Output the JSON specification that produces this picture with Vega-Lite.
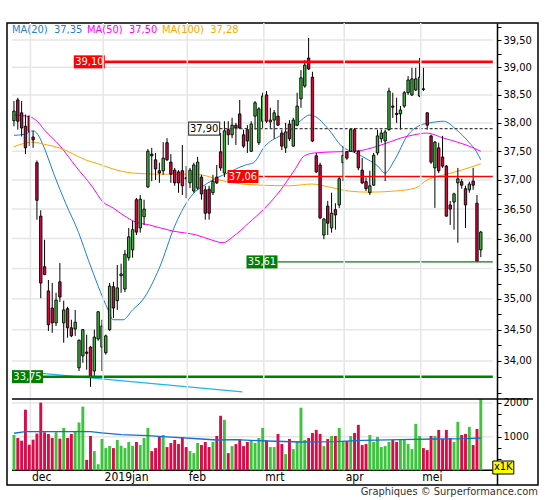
{
  "$schema": "https://vega.github.io/schema/vega-lite/v6.json",
  "background": "white",
  "padding": {"left": 7, "top": 20, "right": 7, "bottom": 4},
  "title": {"text": "Graphiques © Surperformance.com", "orient": "bottom", "anchor": "end", "fontSize": 11, "fontWeight": "normal", "color": "#333333", "offset": 1},
  "config": {
    "font": "DejaVu Sans Condensed, DejaVu Sans, sans-serif",
    "view": {"stroke": "#000000", "strokeWidth": 1.5},
    "axis": {"labelFontSize": 11, "labelColor": "#000000", "tickColor": "#000000", "domainColor": "#000000"},
    "axisX": {"disable": true}
  },
  "datasets": {
    "candles": [
      {"i":0,"o":38.04,"h":38.39,"l":37.94,"c":38.21,"v":1050},
      {"i":1,"o":38.41,"h":38.45,"l":37.88,"c":38.03,"v":960},
      {"i":2,"o":38.18,"h":38.39,"l":37.76,"c":37.91,"v":880},
      {"i":3,"o":37.94,"h":38.15,"l":37.45,"c":37.56,"v":1800},
      {"i":4,"o":38.12,"h":38.13,"l":37.59,"c":37.85,"v":760},
      {"i":5,"o":37.75,"h":37.86,"l":37.56,"c":37.70,"v":910},
      {"i":6,"o":37.30,"h":37.34,"l":36.32,"c":36.65,"v":1090},
      {"i":7,"o":36.38,"h":36.48,"l":35.01,"c":35.26,"v":2010},
      {"i":8,"o":35.53,"h":35.98,"l":35.39,"c":35.40,"v":1130},
      {"i":9,"o":35.13,"h":35.31,"l":34.48,"c":34.58,"v":1080},
      {"i":10,"o":34.85,"h":35.26,"l":34.45,"c":34.61,"v":960},
      {"i":11,"o":34.61,"h":35.10,"l":34.56,"c":34.98,"v":1130},
      {"i":12,"o":35.28,"h":35.59,"l":34.95,"c":35.03,"v":940},
      {"i":13,"o":34.61,"h":34.97,"l":34.29,"c":34.82,"v":1260},
      {"i":14,"o":34.84,"h":34.87,"l":34.37,"c":34.53,"v":960},
      {"i":15,"o":34.53,"h":34.66,"l":34.38,"c":34.40,"v":1080},
      {"i":16,"o":34.51,"h":34.82,"l":34.40,"c":34.62,"v":1170},
      {"i":17,"o":33.89,"h":34.34,"l":33.84,"c":34.33,"v":1420},
      {"i":18,"o":34.08,"h":34.51,"l":33.97,"c":34.50,"v":1890},
      {"i":19,"o":34.14,"h":34.42,"l":33.86,"c":34.12,"v":310},
      {"i":20,"o":34.22,"h":34.24,"l":33.59,"c":33.76,"v":1020},
      {"i":21,"o":33.84,"h":34.50,"l":33.73,"c":34.38,"v":570},
      {"i":22,"o":34.35,"h":34.80,"l":34.32,"c":34.79,"v":180},
      {"i":23,"o":34.22,"h":34.66,"l":33.84,"c":34.56,"v":930},
      {"i":24,"o":34.13,"h":34.42,"l":34.10,"c":34.40,"v":660},
      {"i":25,"o":34.50,"h":35.26,"l":34.48,"c":35.21,"v":720},
      {"i":26,"o":35.20,"h":35.28,"l":34.69,"c":34.85,"v":660},
      {"i":27,"o":34.97,"h":35.56,"l":34.82,"c":35.18,"v":900},
      {"i":28,"o":35.38,"h":35.58,"l":35.10,"c":35.41,"v":730},
      {"i":29,"o":35.16,"h":35.81,"l":35.11,"c":35.74,"v":660},
      {"i":30,"o":35.68,"h":36.18,"l":35.63,"c":36.03,"v":840},
      {"i":31,"o":35.81,"h":36.30,"l":35.68,"c":36.15,"v":730},
      {"i":32,"o":36.66,"h":36.69,"l":36.06,"c":36.11,"v":840},
      {"i":33,"o":36.18,"h":36.74,"l":36.10,"c":36.67,"v":750},
      {"i":34,"o":36.37,"h":36.66,"l":36.23,"c":36.50,"v":960},
      {"i":35,"o":36.88,"h":37.54,"l":36.86,"c":37.50,"v":1260},
      {"i":36,"o":37.45,"h":37.56,"l":36.98,"c":37.42,"v":570},
      {"i":37,"o":37.35,"h":37.47,"l":37.00,"c":37.19,"v":660},
      {"i":38,"o":37.16,"h":37.30,"l":36.95,"c":37.12,"v":990},
      {"i":39,"o":37.16,"h":37.66,"l":37.09,"c":37.38,"v":1050},
      {"i":40,"o":37.65,"h":37.73,"l":37.33,"c":37.35,"v":690},
      {"i":41,"o":37.31,"h":37.45,"l":36.95,"c":37.10,"v":810},
      {"i":42,"o":37.17,"h":37.21,"l":36.90,"c":36.95,"v":900},
      {"i":43,"o":37.14,"h":37.17,"l":36.78,"c":36.95,"v":780},
      {"i":44,"o":37.16,"h":37.61,"l":36.74,"c":36.90,"v":990},
      {"i":45,"o":37.04,"h":37.24,"l":36.69,"c":37.02,"v":690},
      {"i":46,"o":36.95,"h":37.21,"l":36.86,"c":37.17,"v":570},
      {"i":47,"o":36.81,"h":37.30,"l":36.78,"c":37.26,"v":510},
      {"i":48,"o":36.86,"h":37.40,"l":36.83,"c":37.31,"v":810},
      {"i":49,"o":37.05,"h":37.09,"l":36.66,"c":36.76,"v":750},
      {"i":50,"o":36.83,"h":36.90,"l":36.32,"c":36.43,"v":840},
      {"i":51,"o":36.84,"h":36.90,"l":36.32,"c":36.43,"v":690},
      {"i":52,"o":36.78,"h":37.09,"l":36.74,"c":36.98,"v":840},
      {"i":53,"o":37.05,"h":37.26,"l":36.93,"c":36.95,"v":1020},
      {"i":54,"o":37.49,"h":37.82,"l":37.16,"c":37.21,"v":1620},
      {"i":55,"o":37.12,"h":38.03,"l":37.05,"c":37.86,"v":1500},
      {"i":56,"o":37.88,"h":38.03,"l":37.61,"c":37.79,"v":510},
      {"i":57,"o":37.79,"h":38.09,"l":37.73,"c":37.96,"v":720},
      {"i":58,"o":37.96,"h":38.00,"l":37.61,"c":37.91,"v":780},
      {"i":59,"o":38.16,"h":38.41,"l":37.89,"c":37.91,"v":930},
      {"i":60,"o":37.79,"h":37.88,"l":37.56,"c":37.59,"v":720},
      {"i":61,"o":37.88,"h":37.96,"l":37.47,"c":37.68,"v":840},
      {"i":62,"o":37.50,"h":38.03,"l":37.49,"c":37.98,"v":890},
      {"i":63,"o":38.12,"h":38.39,"l":37.88,"c":38.36,"v":810},
      {"i":64,"o":37.65,"h":38.28,"l":37.61,"c":38.25,"v":960},
      {"i":65,"o":38.03,"h":38.54,"l":37.91,"c":38.48,"v":1260},
      {"i":66,"o":38.50,"h":38.57,"l":38.00,"c":38.03,"v":890},
      {"i":67,"o":38.02,"h":38.27,"l":37.91,"c":38.05,"v":690},
      {"i":68,"o":38.05,"h":38.23,"l":37.72,"c":38.18,"v":690},
      {"i":69,"o":38.12,"h":38.41,"l":37.95,"c":37.96,"v":1080},
      {"i":70,"o":37.82,"h":37.88,"l":37.52,"c":37.59,"v":780},
      {"i":71,"o":37.56,"h":38.00,"l":37.47,"c":37.84,"v":480},
      {"i":72,"o":37.98,"h":38.05,"l":37.68,"c":37.72,"v":930},
      {"i":73,"o":37.59,"h":38.09,"l":37.58,"c":38.05,"v":630},
      {"i":74,"o":37.96,"h":38.54,"l":37.94,"c":38.30,"v":870},
      {"i":75,"o":38.43,"h":38.95,"l":38.27,"c":38.81,"v":1860},
      {"i":76,"o":38.66,"h":39.13,"l":38.63,"c":39.04,"v":900},
      {"i":77,"o":39.17,"h":39.54,"l":38.95,"c":38.97,"v":960},
      {"i":78,"o":38.82,"h":38.92,"l":37.66,"c":37.68,"v":1110},
      {"i":79,"o":37.42,"h":37.47,"l":37.12,"c":37.14,"v":1200},
      {"i":80,"o":37.26,"h":37.30,"l":36.33,"c":36.35,"v":1080},
      {"i":81,"o":36.06,"h":36.35,"l":35.99,"c":36.33,"v":720},
      {"i":82,"o":36.55,"h":36.64,"l":36.06,"c":36.26,"v":930},
      {"i":83,"o":36.18,"h":36.78,"l":36.10,"c":36.43,"v":1020},
      {"i":84,"o":36.49,"h":36.60,"l":36.15,"c":36.40,"v":1020},
      {"i":85,"o":36.57,"h":37.05,"l":36.52,"c":37.02,"v":1260},
      {"i":86,"o":37.30,"h":37.59,"l":36.98,"c":37.43,"v":870},
      {"i":87,"o":37.49,"h":37.50,"l":37.35,"c":37.38,"v":870},
      {"i":88,"o":37.50,"h":37.91,"l":37.49,"c":37.88,"v":1020},
      {"i":89,"o":37.88,"h":37.91,"l":37.47,"c":37.50,"v":1110},
      {"i":90,"o":37.50,"h":37.52,"l":37.17,"c":37.21,"v":1350},
      {"i":91,"o":37.17,"h":37.38,"l":36.93,"c":36.95,"v":750},
      {"i":92,"o":36.97,"h":37.04,"l":36.81,"c":36.85,"v":780},
      {"i":93,"o":36.78,"h":37.16,"l":36.74,"c":36.90,"v":1050},
      {"i":94,"o":36.91,"h":37.47,"l":36.90,"c":37.43,"v":840},
      {"i":95,"o":37.47,"h":37.88,"l":37.43,"c":37.77,"v":990},
      {"i":96,"o":37.72,"h":37.88,"l":37.65,"c":37.82,"v":690},
      {"i":97,"o":37.68,"h":37.88,"l":36.98,"c":37.84,"v":720},
      {"i":98,"o":37.88,"h":38.63,"l":37.86,"c":38.57,"v":840},
      {"i":99,"o":38.30,"h":38.54,"l":38.09,"c":38.28,"v":900},
      {"i":100,"o":38.17,"h":38.45,"l":38.00,"c":38.15,"v":840},
      {"i":101,"o":38.16,"h":38.30,"l":37.88,"c":38.23,"v":930},
      {"i":102,"o":38.30,"h":38.57,"l":38.27,"c":38.54,"v":900},
      {"i":103,"o":38.54,"h":38.84,"l":38.50,"c":38.77,"v":780},
      {"i":104,"o":38.50,"h":38.99,"l":38.48,"c":38.79,"v":630},
      {"i":105,"o":38.59,"h":38.99,"l":38.57,"c":38.79,"v":1380},
      {"i":106,"o":38.48,"h":39.17,"l":38.46,"c":38.82,"v":1020},
      {"i":107,"o":38.61,"h":38.99,"l":38.57,"c":38.60,"v":660},
      {"i":108,"o":38.18,"h":38.19,"l":37.88,"c":37.96,"v":600},
      {"i":109,"o":37.77,"h":37.79,"l":37.28,"c":37.31,"v":1020},
      {"i":110,"o":37.21,"h":37.68,"l":36.52,"c":37.66,"v":1020},
      {"i":111,"o":37.56,"h":37.65,"l":37.12,"c":37.16,"v":1200},
      {"i":112,"o":37.40,"h":37.77,"l":37.21,"c":37.24,"v":930},
      {"i":113,"o":37.24,"h":37.26,"l":36.37,"c":36.38,"v":1200},
      {"i":114,"o":36.57,"h":36.64,"l":36.23,"c":36.50,"v":960},
      {"i":115,"o":36.62,"h":36.78,"l":36.15,"c":36.76,"v":840},
      {"i":116,"o":36.95,"h":37.21,"l":35.93,"c":37.02,"v":1440},
      {"i":117,"o":36.97,"h":37.02,"l":36.85,"c":36.91,"v":1050},
      {"i":118,"o":36.85,"h":36.90,"l":36.18,"c":36.57,"v":1080},
      {"i":119,"o":36.83,"h":36.97,"l":36.78,"c":36.93,"v":1290},
      {"i":120,"o":36.98,"h":37.21,"l":36.83,"c":36.91,"v":750},
      {"i":121,"o":36.60,"h":36.74,"l":35.61,"c":35.62,"v":1230},
      {"i":122,"o":35.81,"h":36.13,"l":35.69,"c":36.11,"v":2110}
    ],
    "ma": [
      {"s":"MA(20)","i":0,"p":37.78},{"s":"MA(20)","i":2.8,"p":37.80},{"s":"MA(20)","i":5,"p":37.86},{"s":"MA(20)","i":6.2,"p":37.80},
      {"s":"MA(20)","i":7.9,"p":37.56},{"s":"MA(20)","i":10.5,"p":37.09},{"s":"MA(20)","i":13.5,"p":36.60},{"s":"MA(20)","i":16.9,"p":36.10},
      {"s":"MA(20)","i":19.5,"p":35.63},{"s":"MA(20)","i":22,"p":35.21},{"s":"MA(20)","i":24.6,"p":34.82},{"s":"MA(20)","i":25.9,"p":34.66},
      {"s":"MA(20)","i":28.5,"p":34.66},{"s":"MA(20)","i":31,"p":34.82},{"s":"MA(20)","i":33.6,"p":34.98},{"s":"MA(20)","i":38,"p":35.51},
      {"s":"MA(20)","i":42,"p":36.21},{"s":"MA(20)","i":45.6,"p":36.66},{"s":"MA(20)","i":50.7,"p":36.95},{"s":"MA(20)","i":55.8,"p":37.12},
      {"s":"MA(20)","i":60.5,"p":37.26},{"s":"MA(20)","i":62.6,"p":37.30},{"s":"MA(20)","i":65.6,"p":37.59},{"s":"MA(20)","i":69.5,"p":37.77},
      {"s":"MA(20)","i":72,"p":37.86},{"s":"MA(20)","i":75.1,"p":38.05},{"s":"MA(20)","i":77.2,"p":38.14},{"s":"MA(20)","i":78.5,"p":38.12},
      {"s":"MA(20)","i":82.3,"p":37.88},{"s":"MA(20)","i":85.6,"p":37.59},{"s":"MA(20)","i":89.2,"p":37.47},{"s":"MA(20)","i":92.6,"p":37.35},
      {"s":"MA(20)","i":95.1,"p":37.24},{"s":"MA(20)","i":96.9,"p":37.12},{"s":"MA(20)","i":99.5,"p":37.35},{"s":"MA(20)","i":102.8,"p":37.77},
      {"s":"MA(20)","i":106.2,"p":37.96},{"s":"MA(20)","i":108.7,"p":38.00},{"s":"MA(20)","i":112.3,"p":38.03},{"s":"MA(20)","i":115.6,"p":37.88},
      {"s":"MA(20)","i":119,"p":37.65},{"s":"MA(20)","i":120.8,"p":37.50},{"s":"MA(20)","i":122,"p":37.35},
      {"s":"MA(50)","i":0,"p":38.14},{"s":"MA(50)","i":4.1,"p":38.11},{"s":"MA(50)","i":6.2,"p":38.02},{"s":"MA(50)","i":7.9,"p":37.88},
      {"s":"MA(50)","i":12.1,"p":37.59},{"s":"MA(50)","i":16.2,"p":37.23},{"s":"MA(50)","i":20.3,"p":36.90},{"s":"MA(50)","i":23.3,"p":36.62},
      {"s":"MA(50)","i":25.9,"p":36.52},{"s":"MA(50)","i":28.5,"p":36.40},{"s":"MA(50)","i":31.8,"p":36.28},{"s":"MA(50)","i":35.4,"p":36.23},
      {"s":"MA(50)","i":41.3,"p":36.13},{"s":"MA(50)","i":47.7,"p":36.06},{"s":"MA(50)","i":51.5,"p":35.98},{"s":"MA(50)","i":54.6,"p":35.93},
      {"s":"MA(50)","i":57.2,"p":36.03},{"s":"MA(50)","i":61.3,"p":36.26},{"s":"MA(50)","i":65.6,"p":36.52},{"s":"MA(50)","i":69.5,"p":36.81},
      {"s":"MA(50)","i":73.3,"p":37.17},{"s":"MA(50)","i":75.9,"p":37.42},{"s":"MA(50)","i":78.5,"p":37.47},{"s":"MA(50)","i":84.1,"p":37.49},
      {"s":"MA(50)","i":89.2,"p":37.50},{"s":"MA(50)","i":95.1,"p":37.59},{"s":"MA(50)","i":101,"p":37.73},{"s":"MA(50)","i":104.6,"p":37.79},
      {"s":"MA(50)","i":107.9,"p":37.82},{"s":"MA(50)","i":112.3,"p":37.73},{"s":"MA(50)","i":116.4,"p":37.65},{"s":"MA(50)","i":120,"p":37.56},
      {"s":"MA(50)","i":122,"p":37.50},
      {"s":"MA(100)","i":0,"p":37.58},{"s":"MA(100)","i":4.9,"p":37.66},{"s":"MA(100)","i":8.7,"p":37.61},{"s":"MA(100)","i":11.8,"p":37.56},
      {"s":"MA(100)","i":14.9,"p":37.47},{"s":"MA(100)","i":18.7,"p":37.35},{"s":"MA(100)","i":22,"p":37.28},{"s":"MA(100)","i":25.9,"p":37.19},
      {"s":"MA(100)","i":31,"p":37.12},{"s":"MA(100)","i":38.2,"p":37.10},{"s":"MA(100)","i":46.9,"p":37.10},{"s":"MA(100)","i":50.3,"p":37.07},
      {"s":"MA(100)","i":53.6,"p":37.00},{"s":"MA(100)","i":57.4,"p":36.95},{"s":"MA(100)","i":64.4,"p":36.91},{"s":"MA(100)","i":72,"p":36.90},
      {"s":"MA(100)","i":77.9,"p":36.93},{"s":"MA(100)","i":82.3,"p":36.88},{"s":"MA(100)","i":87.4,"p":36.81},{"s":"MA(100)","i":92.6,"p":36.79},
      {"s":"MA(100)","i":99.7,"p":36.81},{"s":"MA(100)","i":104.9,"p":36.86},{"s":"MA(100)","i":108,"p":37.00},{"s":"MA(100)","i":113.1,"p":37.10},
      {"s":"MA(100)","i":116.9,"p":37.17},{"s":"MA(100)","i":122,"p":37.28}
    ],
    "vma": [
      {"i":0,"v":1100},{"i":3,"v":1150},{"i":20,"v":1150},{"i":23,"v":1110},{"i":28,"v":1060},{"i":35,"v":1030},
      {"i":40,"v":990},{"i":49,"v":930},{"i":53,"v":900},{"i":58,"v":910},{"i":66,"v":870},{"i":75,"v":840},
      {"i":84,"v":850},{"i":91,"v":890},{"i":101,"v":910},{"i":110,"v":930},{"i":118,"v":940},{"i":122,"v":960}
    ],
    "trend": [{"i":-0.51,"p":33.845},{"i":59.7,"p":33.51}],
    "levels": [
      {"p":39.10,"from":15.64,"lab":"39,10","side":"r","major":1},
      {"p":37.90,"from":45.64,"lab":"37,90","side":"m","major":0},
      {"p":37.06,"from":55.8,"lab":"37,06","side":"r","major":0},
      {"p":35.61,"from":60.77,"lab":"35,61","side":"s","major":0},
      {"p":33.75,"from":-0.513,"lab":"33,75","side":"s","major":1}
    ],
    "months": [
      {"i":4.3,"m":"dec"},{"i":23.3,"m":"2019jan"},{"i":45.3,"m":"feb"},
      {"i":65.3,"m":"mrt"},{"i":86.3,"m":"apr"},{"i":106.3,"m":"mei"}
    ],
    "pgrid": [{"p":34},{"p":34.5},{"p":35},{"p":35.5},{"p":36},{"p":36.5},{"p":37},{"p":37.5},{"p":38},{"p":38.5},{"p":39},{"p":39.5}],
    "vlines": [{"v":1000,"k":"grid"},{"v":2000,"k":"grid"},{"v":0,"k":"base"}],
    "panels": [{"v":2118}],
    "scaletag": [{"t":"x1K","v":83}]
  },
  "width": 531,
  "height": 462,
  "resolve": {"scale": {"y": "independent"}, "axis": {"y": "independent"}},
  "layer": [
    {
      "layer": [
        {
          "data": {"name": "pgrid"},
          "mark": {"type": "rule", "color": "#E6E6E6", "strokeWidth": 1.5},
          "encoding": {
            "x": {"datum": -0.513, "type": "quantitative", "scale": {"domain": [-0.513, 135.64], "nice": false, "zero": false}, "axis": null},
            "x2": {"datum": 125.13},
            "y": {
              "field": "p", "type": "quantitative", "title": null,
              "scale": {"type": "log", "domain": [32.084, 39.8165], "nice": false, "zero": false},
              "axis": {
                "orient": "right", "offset": -41, "grid": false, "title": null,
                "values": [33.5,33.75,34,34.25,34.5,34.75,35,35.25,35.5,35.75,36,36.25,36.5,36.75,37,37.25,37.5,37.75,38,38.25,38.5,38.75,39,39.25,39.5,39.75],
                "labelExpr": "datum.value >= 33.9 && abs(datum.value * 2 - round(datum.value * 2)) < 0.01 ? replace(format(datum.value, '.2f'), '.', ',') : ''",
                "labelOverlap": false, "labelFlush": false, "tickSize": 4, "labelPadding": 2, "domainWidth": 1.5
              }
            }
          }
        },
        {
          "data": {"name": "trend"},
          "mark": {"type": "line", "color": "#1EB4F0", "strokeWidth": 1.3},
          "encoding": {
            "x": {"field": "i", "type": "quantitative", "axis": null},
            "y": {"field": "p", "type": "quantitative", "title": null}
          }
        },
        {
          "data": {"name": "ma"},
          "mark": {"type": "line", "strokeWidth": 1, "interpolate": "monotone"},
          "encoding": {
            "x": {"field": "i", "type": "quantitative", "axis": null},
            "y": {"field": "p", "type": "quantitative", "title": null},
            "color": {
              "field": "s", "type": "nominal",
              "scale": {"domain": ["MA(20)", "MA(50)", "MA(100)"], "range": ["#1F7FD0", "#FF00FF", "#FFA500"]},
              "legend": {
                "title": null, "orient": "top-left", "direction": "horizontal", "offset": 0, "padding": 1,
                "symbolSize": 0, "symbolStrokeWidth": 0, "symbolOpacity": 0, "labelOffset": -7, "columnPadding": -1,
                "labelFontSize": 11,
                "labelExpr": "datum.label + '\u00a0\u00a0' + (datum.label == 'MA(20)' ? '37,35' : datum.label == 'MA(50)' ? '37,50' : '37,28')",
                "encode": {"labels": {"update": {"fill": [
                  {"test": "datum.value === 'MA(20)'", "value": "#1F7FD0"},
                  {"test": "datum.value === 'MA(50)'", "value": "#FF00FF"},
                  {"value": "#FFA500"}
                ]}}}
              }
            }
          }
        },
        {
          "data": {"name": "candles"},
          "mark": {"type": "rule", "color": "#000000", "strokeWidth": 1},
          "encoding": {
            "x": {"field": "i", "type": "quantitative", "axis": null},
            "y": {"field": "l", "type": "quantitative", "title": null},
            "y2": {"field": "h"}
          }
        },
        {
          "data": {"name": "candles"},
          "mark": {"type": "bar", "size": 2.4, "stroke": "#000000", "strokeWidth": 0.9, "orient": "vertical"},
          "encoding": {
            "x": {"field": "i", "type": "quantitative", "axis": null},
            "y": {"field": "o", "type": "quantitative", "title": null},
            "y2": {"field": "c"},
            "fill": {"condition": {"test": "datum.c >= datum.o", "value": "#3CB93C"}, "value": "#D7063F"}
          }
        },
        {
          "data": {"name": "levels"},
          "mark": {"type": "rule", "xOffset": 31},
          "encoding": {
            "x": {"field": "from", "type": "quantitative", "axis": null},
            "x2": {"datum": 125.13},
            "y": {"field": "p", "type": "quantitative", "title": null},
            "color": {"condition": [{"test": "datum.side == 'r'", "value": "#FF0000"}, {"test": "datum.side == 's'", "value": "#008000"}], "value": "#404040"},
            "strokeWidth": {"condition": {"test": "datum.major == 1", "value": 2.6}, "value": 1.3},
            "strokeDash": {"condition": {"test": "datum.side == 'm'", "value": [3, 2]}, "value": [1, 0]}
          }
        },
        {
          "data": {"name": "levels"},
          "mark": {"type": "point", "shape": "M0,-0.42L2,-0.42L2,0.42L0,0.42Z", "size": 961, "filled": true, "opacity": 1, "stroke": "#404040"},
          "encoding": {
            "x": {"field": "from", "type": "quantitative", "axis": null},
            "y": {"field": "p", "type": "quantitative", "title": null},
            "color": {"condition": [{"test": "datum.side == 'r'", "value": "#FF0000"}, {"test": "datum.side == 's'", "value": "#008000"}], "value": "#FFFFFF"},
            "strokeWidth": {"condition": {"test": "datum.side == 'm'", "value": 1.2}, "value": 0}
          }
        },
        {
          "data": {"name": "levels"},
          "mark": {"type": "text", "align": "center", "baseline": "middle", "dx": 15.5, "fontSize": 11},
          "encoding": {
            "x": {"field": "from", "type": "quantitative", "axis": null},
            "y": {"field": "p", "type": "quantitative", "title": null},
            "text": {"field": "lab"},
            "color": {"condition": {"test": "datum.side == 'm'", "value": "#000000"}, "value": "#FFFFFF"}
          }
        }
      ]
    },
    {
      "layer": [
        {
          "data": {"name": "vlines"},
          "mark": {"type": "rule"},
          "encoding": {
            "x": {"datum": -0.513, "type": "quantitative", "axis": null},
            "x2": {"datum": 125.13},
            "y": {
              "field": "v", "type": "quantitative", "title": null,
              "scale": {"domain": [-437, 13289], "nice": false, "zero": false},
              "axis": {
                "orient": "right", "offset": -41, "grid": false, "domain": false, "title": null,
                "values": [333, 667, 1000, 1333, 1667, 2000],
                "labelExpr": "datum.value == 1000 ? '1000' : datum.value == 2000 ? '2000' : ''",
                "labelOverlap": false, "labelFlush": false, "tickSize": 4, "labelPadding": 2
              }
            },
            "color": {"condition": {"test": "datum.k == 'base'", "value": "#000000"}, "value": "#E6E6E6"},
            "strokeWidth": {"value": 1.5}
          }
        },
        {
          "data": {"name": "months"},
          "mark": {"type": "rule", "color": "#E6E6E6", "strokeWidth": 1.5},
          "encoding": {
            "x": {"field": "i", "type": "quantitative", "axis": null},
            "y": {"datum": 0, "type": "quantitative", "title": null},
            "y2": {"datum": 13289}
          }
        },
        {
          "data": {"name": "candles"},
          "mark": {"type": "bar", "size": 2.9, "orient": "vertical"},
          "encoding": {
            "x": {"field": "i", "type": "quantitative", "axis": null},
            "y": {"field": "v", "type": "quantitative", "title": null},
            "y2": {"datum": 0},
            "color": {"condition": {"test": "datum.c >= datum.o", "value": "#3CC43C"}, "value": "#DC0A48"}
          }
        },
        {
          "data": {"name": "vma"},
          "mark": {"type": "line", "color": "#1470D0", "strokeWidth": 1.3},
          "encoding": {
            "x": {"field": "i", "type": "quantitative", "axis": null},
            "y": {"field": "v", "type": "quantitative", "title": null}
          }
        },
        {
          "data": {"name": "panels"},
          "mark": {"type": "rule", "color": "#000000", "strokeWidth": 1.5},
          "encoding": {
            "x": {"datum": -0.513, "type": "quantitative", "axis": null},
            "x2": {"datum": 135.64},
            "y": {"field": "v", "type": "quantitative", "title": null}
          }
        },
        {
          "data": {"name": "scaletag"},
          "mark": {"type": "point", "shape": "M0,-0.62L2,-0.62L2,0.62L0,0.62Z", "size": 441, "filled": true, "opacity": 1, "fill": "#FFFF00", "stroke": "#000000", "strokeWidth": 1},
          "encoding": {
            "x": {"datum": 125.13, "type": "quantitative", "axis": null},
            "y": {"field": "v", "type": "quantitative", "title": null}
          }
        },
        {
          "data": {"name": "scaletag"},
          "mark": {"type": "text", "align": "center", "baseline": "middle", "dx": 10.5, "fontSize": 11, "color": "#000000"},
          "encoding": {
            "x": {"datum": 125.13, "type": "quantitative", "axis": null},
            "y": {"field": "v", "type": "quantitative", "title": null},
            "text": {"field": "t"}
          }
        },
        {
          "data": {"name": "months"},
          "mark": {"type": "text", "align": "left", "baseline": "alphabetic", "dx": 1.5, "fontSize": 12, "color": "#000000"},
          "encoding": {
            "x": {"field": "i", "type": "quantitative", "axis": null},
            "y": {"datum": -318, "type": "quantitative", "title": null},
            "text": {"field": "m"}
          }
        }
      ]
    }
  ]
}
